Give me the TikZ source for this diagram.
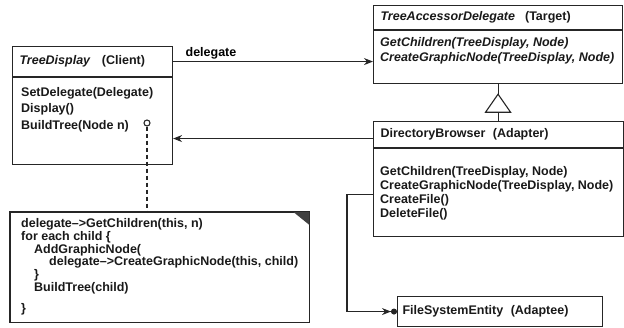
\documentclass[tikz,border=0pt]{standalone}
\usepackage{fontspec}
\setmainfont{Liberation Sans}
\usetikzlibrary{arrows.meta,positioning}
\newcommand{\umlfont}{\fontsize{12.5}{14}\selectfont\bfseries}
\tikzset{
    umlline/.style = {line width=1.1pt, draw=black!85},
    clsbox/.style  = {rectangle, umlline, anchor=north west, inner sep=0pt},
    clshead/.style = {clsbox, inner xsep=7pt, align=left, font=\umlfont, text=black!90},
    opslist/.style = {anchor=north west, inner sep=0pt, align=left, font=\umlfont, text=black!90}
}

\begin{document}
\begin{tikzpicture}[x=1pt, y=-1pt,
        assoc/.style={umlline, -{Stealth[length=9pt,width=7pt]}},
        many/.style={umlline, -{Stealth[length=9pt,width=7pt]Circle[length=6pt]}},
        gentip/.style={umlline, fill=white, line join=miter},
        notelink/.style={umlline, dash pattern=on 4pt off 3pt},
        pinhole/.style={circle, umlline, fill=white, minimum size=6pt, inner sep=0pt},
        notebox/.style={rectangle, anchor=north west, align=left, inner xsep=11pt, font=\fontsize{12.5}{11.2}\selectfont\bfseries, text=black!90},
        dogear/.style={fill=black!75}
    ]
    \useasboundingbox (0,0) rectangle (624,327);

    % --- Client ---
    \node[clshead, text width=146pt, minimum height=30pt] (tdhead) at (12,46) {\textit{TreeDisplay}\hspace{.9em}(Client)};
    \node[clsbox, minimum width=160pt, minimum height=87pt] (tdbody) at (tdhead.south west) {};
    \node[opslist, below right=10pt and 9pt of tdbody.north west, font=\fontsize{12.5}{16.5}\selectfont\bfseries] (tdops) {SetDelegate(Delegate)\\Display()\\BuildTree(Node n)};

    % --- Target ---
    \node[clshead, text width=235pt, minimum height=24pt] (tadhead) at (373,5) {\textit{TreeAccessorDelegate}\hspace{.8em}(Target)};
    \node[clsbox, minimum width=249pt, minimum height=53pt] (tadbody) at (tadhead.south west) {};
    \node[opslist, below right=7pt and 7pt of tadbody.north west, font=\fontsize{12.5}{15.5}\selectfont\bfseries\itshape] (tadops) {GetChildren(TreeDisplay, Node)\\CreateGraphicNode(TreeDisplay, Node)};

    % --- Adapter ---
    \node[clshead, text width=236pt, minimum height=26pt] (dbhead) at (373,121) {DirectoryBrowser\hspace{.6em}(Adapter)};
    \node[clsbox, minimum width=250pt, minimum height=88pt] (dbbody) at (dbhead.south west) {};
    \node[opslist, below right=18pt and 7pt of dbbody.north west] (dbops) {GetChildren(TreeDisplay, Node)\\CreateGraphicNode(TreeDisplay, Node)\\CreateFile()\\DeleteFile()};

    % --- Adaptee ---
    \node[clshead, inner xsep=5pt, text width=195pt, minimum height=30pt] (fse) at (397,296) {FileSystemEntity\hspace{.6em}(Adaptee)};

    % --- Note ---
    \node[notebox, minimum width=298pt, minimum height=110pt] (note) at (10,212) {delegate-->GetChildren(this, n)\\
        for each child \{\\
        \hspace*{13pt}AddGraphicNode(\\
        \hspace*{28pt}delegate-->CreateGraphicNode(this, child)\\
        \hspace*{13pt}\}\\
        \hspace*{13pt}BuildTree(child)\\[9pt]
        \}};
    \draw[umlline] (note.north west) -- (note.north east) -- (note.south east) -- (note.south west) -- cycle;
    \fill[dogear] ([xshift=-16pt]note.north east) -- (note.north east) -- ([yshift=-13pt]note.north east) -- cycle;

    % --- Connections ---
    \draw[assoc] (tdhead.east) -- (tdhead.east -| tadbody.west) node[pos=0.05, above right, inner sep=2pt, font=\umlfont] (dlg) {delegate};
    \draw[assoc] ([yshift=-4pt]dbhead.west) coordinate (ret) -- (ret -| tdbody.east);

    % generalisation
    \coordinate (genapex) at ([yshift=-10pt]tadbody.south);
    \coordinate (genbase) at ([yshift=-28pt]tadbody.south);
    \draw[umlline] (tadbody.south) -- (genapex);
    \draw[gentip] (genapex) -- ++(-12.5,18) -- ++(25,0) -- cycle;
    \draw[umlline] (genbase) -- (genbase |- dbhead.north);

    % note link
    \node[pinhole] (bthook) at (147,123) {};
    \draw[notelink] (bthook.south) -- (bthook.south |- note.north);

    % adaptee reference
    \draw[many] ([yshift=-2pt]dbbody.west) -- ++(-26,0) |- (fse.west);
\end{tikzpicture}
\end{document}
